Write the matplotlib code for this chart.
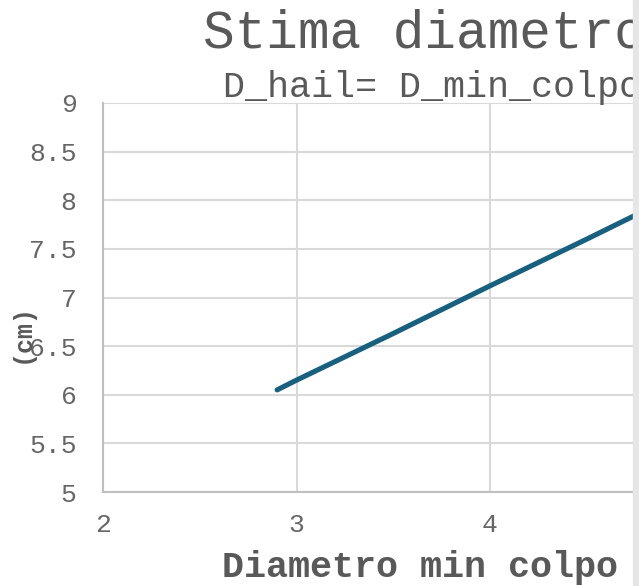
import matplotlib.pyplot as plt
from matplotlib.patches import Rectangle

# data
d_min_colpo = [2.9, 3.0, 3.5, 4.0, 4.5, 5.0]
d_hail = [6.05, 6.15, 6.63, 7.12, 7.60, 8.09]
x_ticks = [2, 3, 4]
y_ticks = [5, 5.5, 6, 6.5, 7, 7.5, 8, 8.5, 9]
title = "Stima diametro"
subtitle = "D_hail= D_min_colpo"
xlabel = "Diametro min colpo"
ylabel = "(cm)"

plt.rcParams['font.family'] = ['Liberation Mono', 'DejaVu Sans']
grey_txt = '#595959'
grid_col = '#d9d9d9'

W, H = 639, 586
fig = plt.figure(figsize=(W / 100, H / 100), dpi=100)

# axes run past the right edge of the picture (reference is cropped)
left, right = 103, 103 + 4 * 193.5
top, bottom = 103, 492
ax = fig.add_axes([left / W, 1 - bottom / H, (right - left) / W, (bottom - top) / H])

ax.plot(d_min_colpo, d_hail, color='#17607f', lw=3.7, solid_capstyle='round', zorder=3)

ax.set_xlim(2, 6)
ax.set_ylim(5, 9)
ax.set_xticks(x_ticks)
ax.set_yticks(y_ticks)
ax.set_yticklabels(['5', '5.5', '6', '6.5', '7', '7.5', '8', '8.5', '9'])
ax.grid(True, color=grid_col, lw=1.5)
ax.set_axisbelow(True)
for s in ['top', 'right']:
    ax.spines[s].set_visible(False)
for s in ['left', 'bottom']:
    ax.spines[s].set_color('#bfbfbf')
    ax.spines[s].set_linewidth(1.5)
ax.tick_params(length=0, labelsize=19, colors='#666666')
ax.tick_params(axis='x', pad=15)
ax.tick_params(axis='y', pad=19)

fig.text(203 / W, 1 - 48 / H, title, fontsize=38, color=grey_txt, va='baseline', ha='left')
fig.text(223 / W, 1 - 97 / H, subtitle, fontsize=26.5, color=grey_txt, va='baseline', ha='left')
fig.text(222 / W, 1 - 577 / H, xlabel, fontsize=26.5, fontweight='bold', color=grey_txt,
         va='baseline', ha='left')
fig.text(22 / W, 1 - 333 / H, ylabel, fontsize=18, fontweight='bold', color=grey_txt,
         rotation=90, va='center', ha='center')

# light grey strip on the right edge of the screenshot
fig.patches.append(Rectangle((633 / W, 0), 6 / W, 1, transform=fig.transFigure,
                             color='#e6e6e6', zorder=10))

fig.savefig('out.png', dpi=100)
